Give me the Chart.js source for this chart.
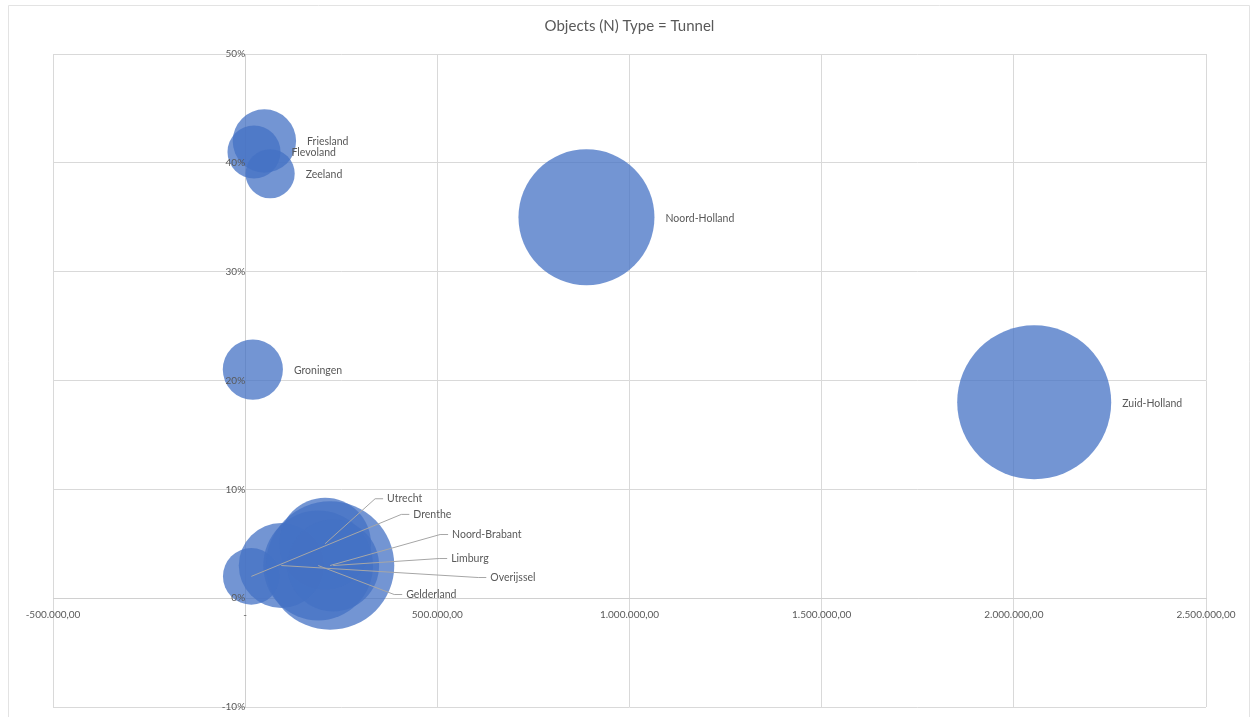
<!DOCTYPE html>
<html lang="nl">
<head>
<meta charset="utf-8">
<title>Objects (N) Type = Tunnel</title>
<script src="https://cdn.jsdelivr.net/npm/chart.js@4/dist/chart.umd.min.js"></script>
<style>
  html, body { margin: 0; padding: 0; background: #fff; }
  #wrap { width: 1253px; height: 717px; }
</style>
</head>
<body>
<div id="wrap"><canvas id="bubbels" width="1253" height="717"></canvas></div>
<script>
// provincies met tunnels
const provincies = ["Groningen", "Friesland", "Drenthe", "Overijssel", "Flevoland", "Gelderland",
  "Utrecht", "Noord-Holland", "Zuid-Holland", "Zeeland", "Noord-Brabant", "Limburg"];
const waarden = [20000, 50000, 16000, 94000, 23000, 190000,
  208000, 888000, 2053000, 65000, 221000, 229000];
const percentages = [21, 42, 2, 3, 41, 3, 5, 35, 18, 39, 3, 3];
const aantallen = [9, 10, 8, 18, 7, 30, 21, 46, 59, 6, 41, 21];

const xTicks = [-500000, 0, 500000, 1000000, 1500000, 2000000, 2500000];
const yTicks = [-10, 0, 10, 20, 30, 40, 50];

const grijs = "#595959";
const lettertype = "Lato, 'Open Sans', sans-serif";
const maxStraal = 77;
const maxAantal = Math.max(...aantallen);

// labels in het cluster linksonder staan verschoven met een lijntje ernaartoe
const verschuiving = {
  "Utrecht": { dx: 62, dy: -45 },
  "Drenthe": { dx: 162, dy: -62 },
  "Noord-Brabant": { dx: 122, dy: -31 },
  "Limburg": { dx: 118, dy: -7 },
  "Overijssel": { dx: 209, dy: 12 },
  "Gelderland": { dx: 88, dy: 29 }
};

const punten = provincies.map((p, i) => ({
  x: waarden[i],
  y: percentages[i],
  r: maxStraal * Math.sqrt(aantallen[i] / maxAantal)
}));

// geen extra marge rond het plotvlak voor grote bubbels
Chart.BubbleController.prototype.getMaxOverflow = function () { return false; };

function bedrag(v) {
  if (v === 0) return "-";
  return v.toLocaleString("nl-NL", { minimumFractionDigits: 2, maximumFractionDigits: 2 });
}

const labelPlugin = {
  id: "labels",
  beforeDraw(chart) {
    const c = chart.ctx;
    c.save();
    c.strokeStyle = "#e3e3e3";
    c.lineWidth = 1;
    c.beginPath();
    c.moveTo(8.5, 717);
    c.lineTo(8.5, 5.5);
    c.lineTo(1249.5, 5.5);
    c.lineTo(1249.5, 717);
    c.stroke();
    c.restore();
  },
  afterDatasetsDraw(chart) {
    const c = chart.ctx;
    const meta = chart.getDatasetMeta(0);
    c.save();
    c.font = "10.5px " + lettertype;
    c.fillStyle = grijs;
    c.textBaseline = "middle";
    c.textAlign = "left";
    meta.data.forEach((el, i) => {
      const naam = provincies[i];
      const v = verschuiving[naam];
      if (v) {
        const lx = el.x + v.dx;
        const ly = el.y + v.dy;
        c.strokeStyle = "#a6a6a6";
        c.lineWidth = 1;
        c.beginPath();
        c.moveTo(el.x, el.y);
        c.lineTo(lx - 12, ly);
        c.lineTo(lx - 4, ly);
        c.stroke();
        c.fillText(naam, lx, ly);
      } else {
        c.fillText(naam, el.x + el.options.radius + 11, el.y + 1);
      }
    });
    c.restore();
  }
};

new Chart(document.getElementById("bubbels"), {
  type: "bubble",
  data: {
    datasets: [{
      label: "Objects (N)",
      data: punten,
      backgroundColor: "rgba(68, 114, 196, 0.75)",
      borderWidth: 0,
      hoverBorderWidth: 0,
      clip: false
    }]
  },
  options: {
    responsive: false,
    animation: false,
    events: [],
    layout: { padding: { left: 53, right: 47, top: 10, bottom: 10 } },
    plugins: {
      legend: { display: false },
      tooltip: { enabled: false },
      title: {
        display: true,
        text: "Objects (N) Type = Tunnel",
        color: grijs,
        font: { family: lettertype, size: 15, weight: "normal" },
        padding: { top: 7, bottom: 19 }
      }
    },
    scales: {
      x: {
        type: "linear",
        position: { y: 0 },
        min: xTicks[0],
        max: xTicks[xTicks.length - 1],
        afterBuildTicks: s => { s.ticks = xTicks.map(v => ({ value: v })); },
        grid: { color: "#d9d9d9", drawTicks: false },
        border: { color: "#d0d0d0" },
        ticks: {
          z: 1,
          color: grijs,
          font: { family: lettertype, size: 10 },
          padding: 11,
          maxRotation: 0,
          callback: v => bedrag(v)
        }
      },
      y: {
        type: "linear",
        position: { x: 0 },
        min: yTicks[0],
        max: yTicks[yTicks.length - 1],
        afterBuildTicks: s => { s.ticks = yTicks.map(v => ({ value: v })); },
        grid: { color: "#d9d9d9", drawTicks: true, tickLength: 5 },
        border: { color: "#d0d0d0" },
        ticks: {
          z: 1,
          color: grijs,
          font: { family: lettertype, size: 10 },
          padding: 4,
          callback: v => v + "%"
        }
      }
    }
  },
  plugins: [labelPlugin]
});
</script>
</body>
</html>
